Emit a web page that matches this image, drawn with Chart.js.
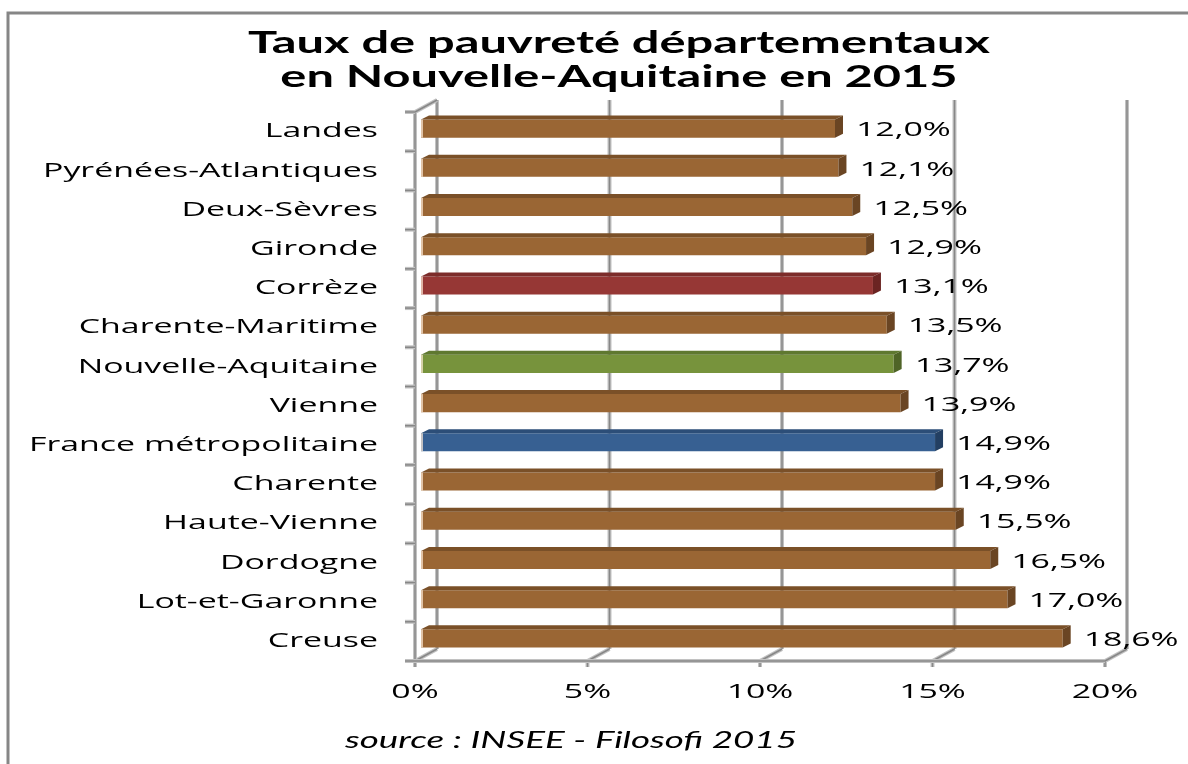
<!DOCTYPE html>
<html>
<head>
<meta charset="utf-8">
<script src="https://cdn.jsdelivr.net/npm/chart.js@4.4.0/dist/chart.umd.min.js"></script>
<style>
  html, body { margin: 0; padding: 0; background: #fff; }
  #wrap { width: 1188px; height: 764px; position: relative; }
</style>
</head>
<body>
<div id="wrap"><canvas id="povChart" width="1188" height="764"></canvas></div>
<script>
// data
var categories = ['Landes', 'Pyrénées-Atlantiques', 'Deux-Sèvres', 'Gironde', 'Corrèze',
  'Charente-Maritime', 'Nouvelle-Aquitaine', 'Vienne', 'France métropolitaine', 'Charente',
  'Haute-Vienne', 'Dordogne', 'Lot-et-Garonne', 'Creuse'];
var rates = [12.0, 12.1, 12.5, 12.9, 13.1, 13.5, 13.7, 13.9, 14.9, 14.9, 15.5, 16.5, 17.0, 18.6];
var xTicks = [0, 5, 10, 15, 20];
var titleLines = ['Taux de pauvreté départementaux', 'en Nouvelle-Aquitaine en 2015'];
var sourceText = 'source : INSEE - Filosofi 2015';

// colours: front face / side face / top face
var BROWN = ['#9a6634', '#6a4523', '#7a5028'];
var RED = ['#963735', '#6b2422', '#7c2c2a'];
var GREEN = ['#77933c', '#4f6427', '#5f7830'];
var BLUE = ['#376092', '#233f62', '#2c4e78'];
var barStyles = categories.map(function (c) {
  if (c === 'Corrèze') return RED;
  if (c === 'Nouvelle-Aquitaine') return GREEN;
  if (c === 'France métropolitaine') return BLUE;
  return BROWN;
});

// 3D offsets relative to the bar plane (= chart area)
var FRONT = { dx: -6, dy: 3 };
var BACK = { dx: 16, dy: -9 };
var DEPTH = { dx: 8, dy: -4 };

function gridLine(ctx, x1, y1, x2, y2) {
  ctx.beginPath();
  ctx.moveTo(x1, y1);
  ctx.lineTo(x2, y2);
  ctx.lineWidth = 4;
  ctx.strokeStyle = '#c2c2c2';
  ctx.stroke();
  ctx.lineWidth = 1.5;
  ctx.strokeStyle = '#878787';
  ctx.stroke();
}

function wideText(ctx, text, x, y, align, font, sx) {
  ctx.save();
  ctx.font = font;
  ctx.translate(x, y);
  ctx.scale(sx, 1);
  ctx.textAlign = align;
  ctx.textBaseline = 'middle';
  ctx.fillStyle = '#000';
  ctx.fillText(text, 0, 0);
  ctx.restore();
}

var LABEL_FONT = '20px "Open Sans"';
var TITLE_FONT = 'bold 31px Lato';
var SOURCE_FONT = 'italic 23px Lato';
var labelSX = 1.5;

var scene3d = {
  id: 'scene3d',
  beforeDatasetsDraw: function (chart) {
    var ctx = chart.ctx;
    var area = chart.chartArea;
    var xs = chart.scales.x;
    var ys = chart.scales.y;
    ctx.save();
    ctx.font = LABEL_FONT;
    labelSX = 335 / ctx.measureText('Pyrénées-Atlantiques').width;

    // outer frame
    ctx.lineWidth = 3;
    ctx.strokeStyle = '#868686';
    ctx.beginPath();
    ctx.moveTo(8, 770);
    ctx.lineTo(8, 13);
    ctx.lineTo(1195, 13);
    ctx.stroke();

    var fTop = area.top + FRONT.dy, fBot = area.bottom + FRONT.dy;
    var bTop = area.top + BACK.dy, bBot = area.bottom + BACK.dy;

    // back wall gridlines + floor diagonals
    xTicks.forEach(function (v) {
      var x = xs.getPixelForValue(v);
      gridLine(ctx, x + BACK.dx, bTop, x + BACK.dx, bBot);
      gridLine(ctx, x + FRONT.dx, fBot, x + BACK.dx, bBot);
      gridLine(ctx, x + FRONT.dx, fBot, x + FRONT.dx, fBot + 6);
    });

    // left wall front edge and top diagonal
    var fl = area.left + FRONT.dx;
    gridLine(ctx, fl, fTop, fl, fBot);
    gridLine(ctx, fl, fTop, area.left + BACK.dx, bTop);
    // front floor edge
    gridLine(ctx, fl, fBot, xs.getPixelForValue(20) + FRONT.dx, fBot);

    // category ticks
    for (var i = 0; i <= categories.length; i++) {
      var ty = ys.getPixelForValue(i - 0.5) + FRONT.dy;
      gridLine(ctx, fl - 10, ty, fl, ty);
    }

    // category labels
    categories.forEach(function (c, i) {
      var y = ys.getPixelForValue(i) + FRONT.dy;
      wideText(ctx, c, 378, y, 'right', LABEL_FONT, labelSX);
    });

    // x tick labels
    xTicks.forEach(function (v) {
      var x = xs.getPixelForValue(v) + FRONT.dx;
      wideText(ctx, v + '%', x, 692, 'center', LABEL_FONT, labelSX);
    });
    ctx.restore();
  },
  afterDatasetsDraw: function (chart) {
    var ctx = chart.ctx;
    var meta = chart.getDatasetMeta(0);
    ctx.save();
    meta.data.forEach(function (bar, i) {
      var st = barStyles[i];
      var x0 = bar.base, x1 = bar.x;
      var yT = bar.y - bar.height / 2, yB = bar.y + bar.height / 2;
      // top face
      ctx.fillStyle = st[2];
      ctx.beginPath();
      ctx.moveTo(x0, yT);
      ctx.lineTo(x1, yT);
      ctx.lineTo(x1 + DEPTH.dx, yT + DEPTH.dy);
      ctx.lineTo(x0 + DEPTH.dx, yT + DEPTH.dy);
      ctx.closePath();
      ctx.fill();
      // end face
      ctx.fillStyle = st[1];
      ctx.beginPath();
      ctx.moveTo(x1, yT);
      ctx.lineTo(x1 + DEPTH.dx, yT + DEPTH.dy);
      ctx.lineTo(x1 + DEPTH.dx, yB + DEPTH.dy);
      ctx.lineTo(x1, yB);
      ctx.closePath();
      ctx.fill();
      // light left edge
      ctx.fillStyle = 'rgba(255,235,215,0.7)';
      ctx.fillRect(x0, yT, 2, yB - yT);

      var txt = rates[i].toFixed(1).replace('.', ',') + '%';
      wideText(ctx, txt, x1 + DEPTH.dx + 13, bar.y + 2, 'left', LABEL_FONT, labelSX);
    });

    // title
    ctx.font = TITLE_FONT;
    var tSX = 742 / ctx.measureText(titleLines[0]).width;
    wideText(ctx, titleLines[0], 619, 43, 'center', TITLE_FONT, tSX);
    wideText(ctx, titleLines[1], 619, 77, 'center', TITLE_FONT, tSX);

    // source
    ctx.font = SOURCE_FONT;
    var sSX = 452 / ctx.measureText(sourceText).width;
    wideText(ctx, sourceText, 345, 741, 'left', SOURCE_FONT, sSX);
    ctx.restore();
  }
};

new Chart(document.getElementById('povChart'), {
  type: 'bar',
  data: {
    labels: categories,
    datasets: [{
      data: rates,
      backgroundColor: barStyles.map(function (s) { return s[0]; }),
      borderWidth: 0,
      categoryPercentage: 1,
      barPercentage: 0.46
    }]
  },
  options: {
    indexAxis: 'y',
    responsive: false,
    animation: false,
    layout: { padding: { left: 421, right: 77, top: 109, bottom: 106 } },
    plugins: { legend: { display: false }, tooltip: { enabled: false } },
    scales: {
      x: { display: false, min: 0, max: 20 },
      y: { display: false }
    }
  },
  plugins: [scene3d]
});
</script>
</body>
</html>
